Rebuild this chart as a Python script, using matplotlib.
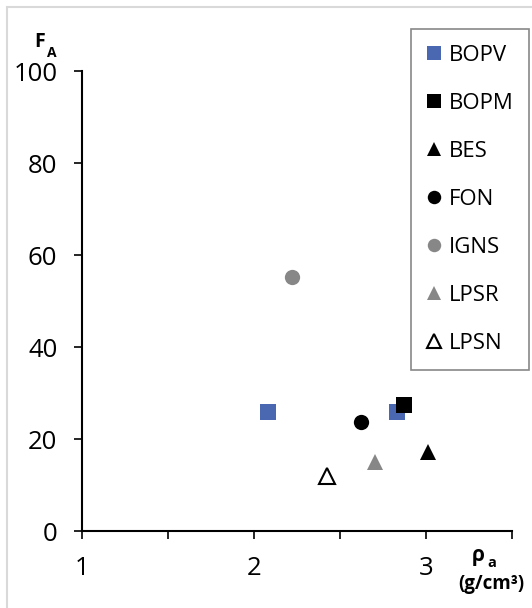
import matplotlib
matplotlib.use('Agg')
import matplotlib.pyplot as plt
from matplotlib.patches import Rectangle

# series
series_names = ['BOPV', 'BOPM', 'BES', 'FON', 'IGNS', 'LPSR', 'LPSN']
density = [[2.08, 2.83], [2.87], [3.01], [2.62], [2.22], [2.70], [2.42]]
fa_values = [[25.8, 25.8], [27.3], [17.2], [23.6], [55.3], [15.0], [12.0]]

x_ticks = [1, 1.5, 2, 2.5, 3, 3.5]
x_tick_labels = ['1', '', '2', '', '3', '']
y_ticks = [0, 20, 40, 60, 80, 100]

# marker styles for each series
styles = [
    dict(marker='s', color='#4A68B2'),
    dict(marker='s', color='black'),
    dict(marker='^', color='black'),
    dict(marker='o', color='black'),
    dict(marker='o', color='#878787'),
    dict(marker='^', color='#878787'),
    dict(marker='^', color='white', mec='black', mew=1.5),
]

plt.rcParams['font.family'] = ['Open Sans', 'DejaVu Sans']

fig = plt.figure(figsize=(5.32, 6.08), dpi=100)
ax = fig.add_axes([0.155, 0.1266, 0.808, 0.7566])

# light chart border
fig.patches.append(Rectangle((0.013, -0.02), 1.0, 1.0085, transform=fig.transFigure,
                             fill=False, edgecolor='#D9D9D9', linewidth=1.5))

handles = []
for name, xs, ys, st in zip(series_names, density, fa_values, styles):
    st = dict(st)
    color = st.pop('color')
    mec = st.pop('mec', color)
    mew = st.pop('mew', 0)
    h, = ax.plot(xs, ys, linestyle='none', markersize=11, color=color,
                 markerfacecolor=color, markeredgecolor=mec, markeredgewidth=mew,
                 label=name, **st)
    handles.append(h)

ax.set_xlim(1, 3.5)
ax.set_ylim(0, 100)
ax.set_xticks(x_ticks)
ax.set_xticklabels(x_tick_labels)
ax.set_yticks(y_ticks)

for side in ['top', 'right']:
    ax.spines[side].set_visible(False)
for side in ['left', 'bottom']:
    ax.spines[side].set_linewidth(1.5)
ax.tick_params(axis='both', direction='out', length=6, width=1.2, labelsize=18.5)
ax.tick_params(axis='y', pad=12)
ax.tick_params(axis='x', pad=12)

# axis titles placed like the reference (pixel positions converted to figure coords)
W, H = 532, 608
fig.text(40 / W, 1 - 42 / H, 'F', fontsize=14, fontweight='bold', ha='center', va='center')
fig.text(52 / W, 1 - 53 / H, 'A', fontsize=10, fontweight='bold', ha='center', va='center')
fig.text(478 / W, 1 - 556 / H, 'ρ', fontsize=15, fontweight='bold', ha='center', va='center')
fig.text(492 / W, 1 - 563 / H, 'a', fontsize=10.5, fontweight='bold', ha='center', va='center')
fig.text(524 / W, 1 - 584 / H, '(g/cm³)', fontsize=13.5, fontweight='bold', ha='right', va='center')

leg = fig.legend(handles=handles, loc='upper right', bbox_to_anchor=(529 / W, 1 - 29 / H),
                 fontsize=16, labelspacing=1.22, handlelength=0.7, handletextpad=0.3,
                 markerscale=0.88, fancybox=False, framealpha=1, borderpad=0.7,
                 borderaxespad=0)
leg.get_frame().set_edgecolor('#888888')
leg.get_frame().set_linewidth(1.2)

plt.savefig('out.png', dpi=100)
